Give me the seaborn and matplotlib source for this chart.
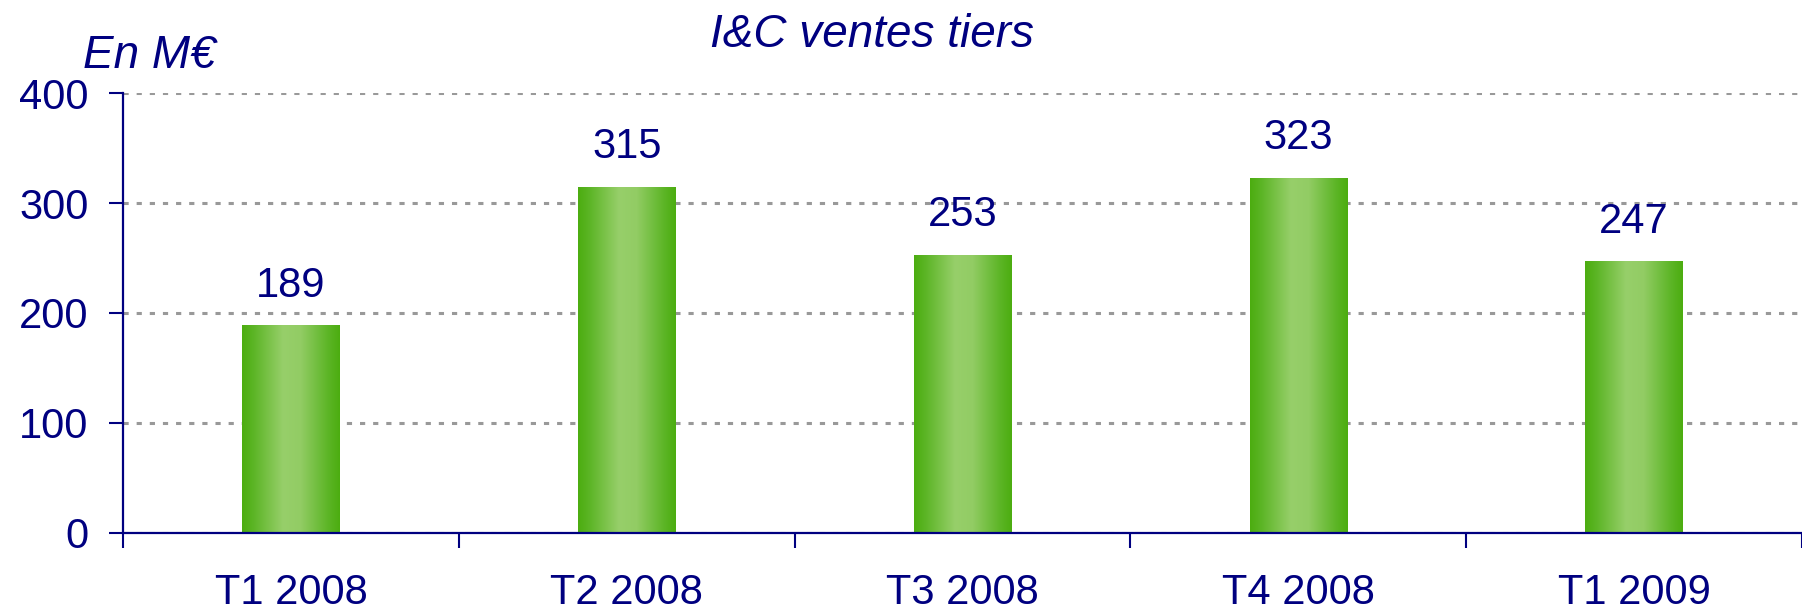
import numpy as np
import matplotlib
matplotlib.use("Agg")
import matplotlib.pyplot as plt
import matplotlib.ticker as mticker
from matplotlib.colors import LinearSegmentedColormap
import seaborn as sns

# data
quarters = ["T1 2008", "T2 2008", "T3 2008", "T4 2008", "T1 2009"]
sales = [189, 315, 253, 323, 247]
y_ticks = [0, 100, 200, 300, 400]

NAVY = "#000080"
GRID = "#999999"

sns.set_theme(style="white")
plt.rcParams["font.family"] = ["Liberation Sans", "DejaVu Sans"]

fig = plt.figure(figsize=(18.02, 6.14), dpi=100)
ax = fig.add_axes([0.0683, 0.132, 0.9317, 0.7165])

sns.barplot(x=quarters, y=sales, ax=ax, width=0.29, color="#6fbf3a",
            edgecolor="none", linewidth=0, zorder=3)

# horizontal gradient on each bar (dark edges, light centre)
green = LinearSegmentedColormap.from_list(
    "bar", [(0, "#4cad10"), (0.12, "#5cb526"), (0.42, "#97cf6a"),
            (0.6, "#92cc64"), (0.88, "#5cb526"), (1, "#4cad10")])
grad = np.linspace(0, 1, 256).reshape(1, -1)
for p in list(ax.patches):
    x0, y0 = p.get_x(), p.get_y()
    im = ax.imshow(grad, cmap=green, aspect="auto", zorder=4,
                   extent=(x0, x0 + p.get_width(), y0, y0 + p.get_height()))
    im.set_clip_path(p)

for c in ax.containers:
    ax.bar_label(c, padding=14, fontsize=30, color=NAVY, zorder=5)

ax.set_xlim(-0.5, len(quarters) - 0.5)
ax.set_ylim(0, 400)
ax.set_yticks(y_ticks)
ax.yaxis.grid(True, color=GRID, linewidth=2.2, linestyle=(0, (1.7, 2.6)), zorder=0)
ax.xaxis.grid(False)
ax.set_axisbelow(True)

ax.xaxis.set_minor_locator(mticker.FixedLocator(np.arange(-0.5, len(quarters), 1.0)))
ax.tick_params(axis="x", which="major", length=0, pad=29, labelsize=30, labelcolor=NAVY)
ax.tick_params(axis="x", which="minor", length=11, width=1.5, color=NAVY, direction="out")
ax.tick_params(axis="y", length=10, width=1.5, color=NAVY, direction="out",
               pad=15, labelsize=30, labelcolor=NAVY)
ax.tick_params(bottom=True, left=True, which="both")

for side in ["top", "right"]:
    ax.spines[side].set_visible(False)
for side in ["left", "bottom"]:
    ax.spines[side].set_color(NAVY)
    ax.spines[side].set_linewidth(1.6)
    ax.spines[side].set_zorder(6)

ax.set_xlabel("")
ax.set_ylabel("")

fig.text(0.484, 0.923, "I&C ventes tiers", ha="center", va="baseline",
         fontsize=33, style="italic", color=NAVY)
fig.text(0.046, 0.889, "En M€", ha="left", va="baseline",
         fontsize=33, style="italic", color=NAVY)

fig.savefig("out.png", dpi=100, facecolor="white")
